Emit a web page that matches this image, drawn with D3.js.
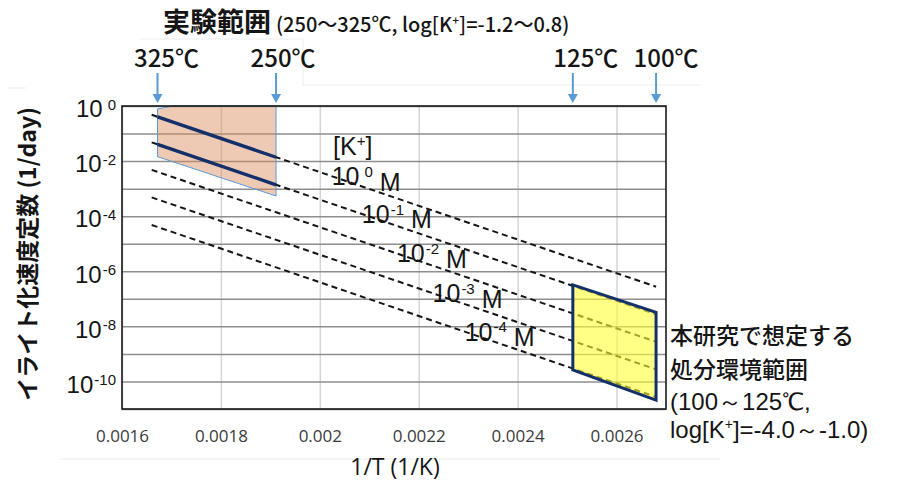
<!DOCTYPE html>
<html>
<head>
<meta charset="utf-8">
<script src="https://cdn.jsdelivr.net/npm/d3@7"></script>
<style>
  body { margin: 0; background: #fff; }
  svg { display: block; }
</style>
</head>
<body>
<svg id="chart" width="902" height="488"></svg>
<script>
// Arrhenius plot of the illitization rate constant k (1/day) against 1/T,
// one reference line per potassium concentration [K+].

// ---- data ----
const concExponents = [0, -1, -2, -3, -4];                          // log[K+] of each reference line
const lineInvT = [0.00166, 0.00268];                                 // 1/T span of the reference lines (1/K)
const lineKStart = [4.8e-1, 4.8e-2, 4.8e-3, 4.8e-4, 4.8e-5];         // k at the first 1/T
const lineKEnd = [2.75e-7, 2.75e-8, 2.75e-9, 2.75e-10, 2.75e-11];    // k at the last 1/T

const expTempsC = [325, 250];                                        // experimental temperatures (°C)
const expLineK = [[4.05e-1, 1.38e-2], [4.05e-2, 1.38e-3]];           // measured lines, [K+] = 1 and 0.1
const expRegionInvT = [0.0016718, 0.001703, 0.0019115, 0.0019115, 0.0016718];
const expRegionK = [0.78, 1, 1, 5.4e-4, 1.45e-2];

const siteTempsC = [125, 100];                                       // repository temperatures (°C)
const siteRegionK = [3.2e-7, 3.2e-8, 2.1e-11, 2.6e-10];              // corners: TL, TR, BR, BL

const xTicks = [0.0016, 0.0018, 0.002, 0.0022, 0.0024, 0.0026];
const xTickLabels = ["0.0016", "0.0018", "0.002", "0.0022", "0.0024", "0.0026"];
const yLabelExps = [0, -2, -4, -6, -8, -10];

// ---- layout ----
const plot = { left: 122, right: 666, top: 106, bottom: 409 };
const svg = d3.select("#chart");
const x = d3.scaleLinear().domain([0.0016, 0.0027]).range([plot.left, plot.right]);
const y = d3.scaleLog().domain([1e-11, 1]).range([plot.bottom, plot.top]);
const invT = c => 1 / (c + 273.15);

const jp = "'Noto Sans CJK JP', 'Noto Sans', sans-serif";
const latin = "'Liberation Sans', Arial, sans-serif";
const ink = "#151515";
const navy = "#14306b";
const arrowBlue = "#5b9bd5";

// faint frame remnants around the text blocks
const faint = svg.append("g").attr("stroke", "#ececec").attr("stroke-width", 1).attr("fill", "none");
faint.append("path").attr("d", "M140,39 H303 V86");
faint.append("path").attr("d", "M303,85 H700");
faint.append("path").attr("d", "M8,88 H26");
faint.append("path").attr("d", "M60,459 H720");

// ---- gridlines ----
const decades = d3.range(-11, 1).map(e => Math.pow(10, e));
svg.append("g")
  .attr("transform", `translate(0,${plot.bottom})`)
  .call(d3.axisBottom(x).tickValues(xTicks).tickSize(-(plot.bottom - plot.top)).tickFormat(""))
  .call(g => {
    g.select(".domain").remove();
    g.selectAll("line").attr("stroke", "#d5d5d5").attr("stroke-width", 1.5);
  });
svg.append("g")
  .attr("transform", `translate(${plot.left},0)`)
  .call(d3.axisLeft(y).tickValues(decades).tickSize(-(plot.right - plot.left)).tickFormat(""))
  .call(g => {
    g.select(".domain").remove();
    g.selectAll("line").attr("stroke", "#8e8e8e").attr("stroke-width", 1.5);
  });

// ---- experimental range (shaded) ----
svg.append("polygon")
  .attr("points", expRegionInvT.map((t, i) => [x(t), y(expRegionK[i])].join(",")).join(" "))
  .attr("fill", "#d98a5c").attr("fill-opacity", 0.45)
  .attr("stroke", arrowBlue).attr("stroke-width", 1);

// ---- concentration labels along the lines (drawn under the dashes) ----
const labelInvT = [0.002024, 0.002085, 0.002156, 0.002228, 0.002293];
function lineK(i, t) {
  const f = (t - lineInvT[0]) / (lineInvT[1] - lineInvT[0]);
  return Math.pow(10, Math.log10(lineKStart[i]) + f * (Math.log10(lineKEnd[i]) - Math.log10(lineKStart[i])));
}
concExponents.forEach((e, i) => {
  const t = labelInvT[i];
  const lbl = svg.append("text")
    .attr("x", x(t)).attr("y", y(lineK(i, t)))
    .attr("dy", "0.36em")
    .attr("font-family", latin).attr("font-size", 25).attr("fill", ink);
  lbl.append("tspan").text("10");
  lbl.append("tspan").attr("dy", "-0.55em").attr("dx", e === 0 ? 5 : 1)
    .attr("font-size", 15).text(String(e));
  lbl.append("tspan").attr("dy", "0.55em").text("\u00a0M");
});

// ---- reference lines ----
const line = d3.line().x(d => x(d[0])).y(d => y(d[1]));
concExponents.forEach((e, i) => {
  svg.append("path")
    .attr("d", line([[lineInvT[0], lineKStart[i]], [lineInvT[1], lineKEnd[i]]]))
    .attr("fill", "none").attr("stroke", ink).attr("stroke-width", 2)
    .attr("stroke-dasharray", "6,4");
});

// measured lines inside the experimental range
expLineK.forEach(ks => {
  svg.append("path")
    .attr("d", line([[invT(expTempsC[0]), ks[0]], [invT(expTempsC[1]), ks[1]]]))
    .attr("fill", "none").attr("stroke", navy).attr("stroke-width", 3.4);
});

// ---- repository conditions (shaded) ----
const siteCorners = [
  [invT(siteTempsC[0]), siteRegionK[0]],
  [invT(siteTempsC[1]), siteRegionK[1]],
  [invT(siteTempsC[1]), siteRegionK[2]],
  [invT(siteTempsC[0]), siteRegionK[3]]
];
svg.append("polygon")
  .attr("points", siteCorners.map(d => [x(d[0]), y(d[1])].join(",")).join(" "))
  .attr("fill", "#ffff33").attr("fill-opacity", 0.6)
  .attr("stroke", navy).attr("stroke-width", 3).attr("stroke-linejoin", "miter");

// plot border
svg.append("rect")
  .attr("x", plot.left).attr("y", plot.top)
  .attr("width", plot.right - plot.left).attr("height", plot.bottom - plot.top)
  .attr("fill", "none").attr("stroke", "#1a1a1a").attr("stroke-width", 1.6);

// ---- axes labels ----
svg.append("g")
  .attr("transform", `translate(0,${plot.bottom})`)
  .call(d3.axisBottom(x).tickValues(xTicks).tickSize(0).tickPadding(21)
    .tickFormat((d, i) => xTickLabels[i]))
  .call(g => {
    g.select(".domain").remove();
    g.selectAll("text").attr("font-family", "'Open Sans', sans-serif")
      .attr("font-size", 17).attr("fill", "#3a3a3a");
  });

const yAxis = svg.append("g")
  .attr("transform", `translate(${plot.left},0)`)
  .call(d3.axisLeft(y).tickValues(yLabelExps.map(e => Math.pow(10, e))).tickSize(0).tickPadding(6)
    .tickFormat(""))
  .call(g => g.select(".domain").remove());
yAxis.selectAll(".tick text").each(function(d, i) {
  const t = d3.select(this)
    .attr("font-family", latin).attr("font-size", 24).attr("fill", ink)
    .attr("dy", "0.45em");
  t.text(null);
  t.append("tspan").text("10");
  const e = yLabelExps[i];
  t.append("tspan")
    .attr("dy", "-0.5em").attr("dx", e === 0 ? 5 : 1)
    .attr("font-size", 15).text(String(e));
});

svg.append("text")
  .attr("transform", "translate(36,254) rotate(-90)")
  .attr("text-anchor", "middle")
  .attr("font-family", jp).attr("font-size", 23).attr("font-weight", 700).attr("fill", ink)
  .text("イライト化速度定数 (1/day)");

svg.append("text")
  .attr("x", 395).attr("y", 475)
  .attr("text-anchor", "middle")
  .attr("font-family", "'Open Sans', sans-serif").attr("font-size", 23).attr("fill", ink)
  .text("1/T (1/K)");

const kLabel = svg.append("text")
  .attr("x", 333).attr("y", 155)
  .attr("font-family", latin).attr("font-size", 25).attr("fill", ink);
kLabel.append("tspan").text("[K");
kLabel.append("tspan").attr("dy", -9).attr("font-size", 15).text("+");
kLabel.append("tspan").attr("dy", 9).text("]");

// ---- temperature markers ----
const markers = [
  { c: expTempsC[0], dx: 9 }, { c: expTempsC[1], dx: 7 },
  { c: siteTempsC[0], dx: 13 }, { c: siteTempsC[1], dx: 10 }
];
markers.forEach(m => {
  const px = x(invT(m.c));
  svg.append("line")
    .attr("x1", px).attr("x2", px).attr("y1", 73).attr("y2", 96)
    .attr("stroke", arrowBlue).attr("stroke-width", 2);
  svg.append("path")
    .attr("d", `M${px - 5},94 L${px + 5},94 L${px},103 Z`)
    .attr("fill", arrowBlue);
  svg.append("text")
    .attr("x", px + m.dx).attr("y", 67)
    .attr("text-anchor", "middle")
    .attr("font-family", jp).attr("font-size", 24).attr("font-weight", 500).attr("fill", ink)
    .text(m.c + "℃");
});

// ---- titles and notes ----
const title = svg.append("text")
  .attr("x", 163).attr("y", 32)
  .attr("font-family", jp).attr("fill", ink);
title.append("tspan").attr("font-size", 27).attr("font-weight", 700).text("実験範囲");
title.append("tspan").attr("dx", 5).attr("font-size", 20).attr("font-weight", 500)
  .text("(" + expTempsC[1] + "～" + expTempsC[0] + "℃, log[K");
title.append("tspan").attr("dy", -7).attr("font-size", 12).attr("font-weight", 500).text("+");
title.append("tspan").attr("dy", 7).attr("font-size", 20).attr("font-weight", 500).text("]=-1.2～0.8)");

// note beside the repository range: two Japanese lines, then the conditions
const noteJp = svg.append("g")
  .attr("font-family", jp).attr("fill", ink).attr("font-weight", 500).attr("font-size", 23);
noteJp.append("text").attr("x", 670).attr("y", 344).text("本研究で想定する");
noteJp.append("text").attr("x", 670).attr("y", 378).text("処分環境範囲");

const noteCond = svg.append("g")
  .attr("font-family", latin).attr("fill", ink).attr("font-size", 24);
noteCond.append("text").attr("x", 670).attr("y", 410)
  .text("(" + siteTempsC[1] + "～" + siteTempsC[0] + "℃,");
const cond2 = noteCond.append("text").attr("x", 670).attr("y", 438);
cond2.append("tspan").text("log[K");
cond2.append("tspan").attr("dy", -9).attr("font-size", 14).text("+");
cond2.append("tspan").attr("dy", 9).text("]=-4.0～-1.0)");
</script>
</body>
</html>
